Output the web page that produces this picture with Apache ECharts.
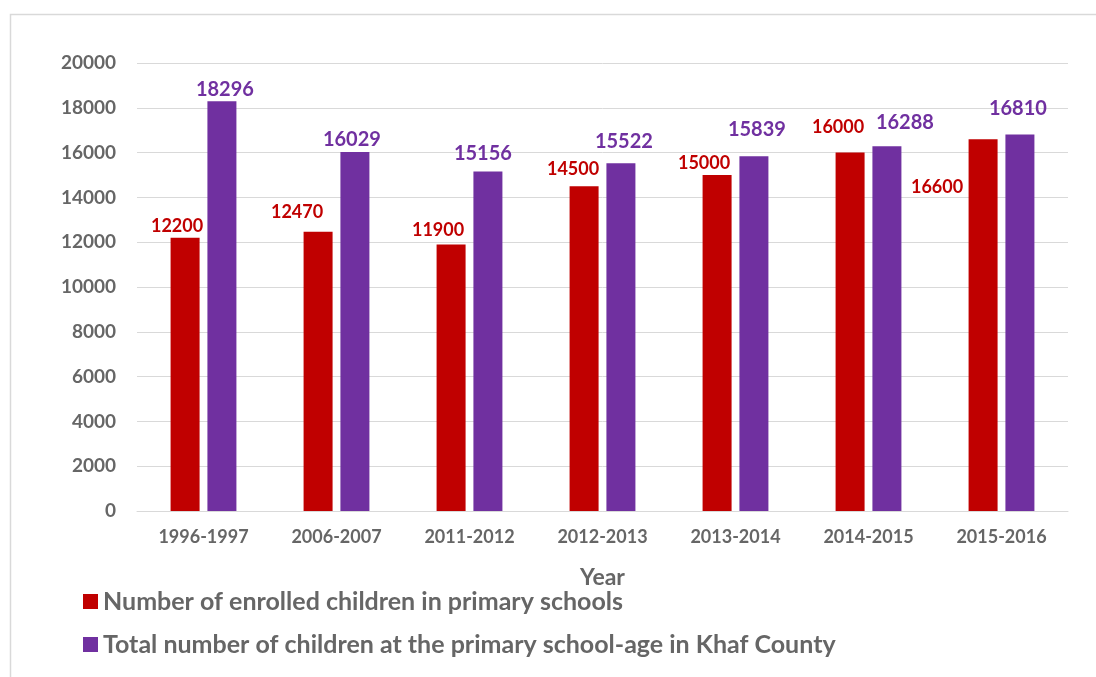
<!DOCTYPE html>
<html><head><meta charset="utf-8">
<script src="https://cdn.jsdelivr.net/npm/echarts@6/dist/echarts.min.js"></script>
<style>html,body{margin:0;padding:0;background:#fff}#c{width:1096px;height:677px}</style>
</head><body><div id="c"></div>
<script>
const categories = ['1996-1997','2006-2007','2011-2012','2012-2013','2013-2014','2014-2015','2015-2016'];
const enrolled = [12200, 12470, 11900, 14500, 15000, 16000, 16600];
const total = [18296, 16029, 15156, 15522, 15839, 16288, 16810];
const seriesNames = ['Number of enrolled children in primary schools','Total number of children at the primary school-age in Khaf County'];
const yTicks = [0, 2000, 4000, 6000, 8000, 10000, 12000, 14000, 16000, 18000, 20000];

// label nudges (style only), as in the original chart's manually moved data labels
const enrolledLabelOffsets = [[-8,0],[-21,-7],[-13,-2],[-11,-5],[-13,0],[-12,-13],[-46,60]];
const totalLabelOffsets = [[3,2],[-3,2],[-5,-4],[3,-8],[3,-13],[18,-10],[-2,-12]];

const FONT = 'Lato';
const chart = echarts.init(document.getElementById('c'), null, {renderer:'canvas'});
const enrolledData = enrolled.map((v,i) => ({value:v, label:{offset:enrolledLabelOffsets[i]}}));
const totalData = total.map((v,i) => ({value:v, label:{offset:totalLabelOffsets[i]}}));
chart.setOption({
  animation:false,
  textStyle:{fontFamily:FONT},
  graphic:[{type:'rect', shape:{x:10.5,y:14.5,width:1200,height:800}, style:{fill:'none',stroke:'#d9d9d9',lineWidth:1.5}, silent:true}],
  grid:{left:137,right:28,top:63,bottom:166,containLabel:false},
  legend:{
    orient:'vertical', left:78, top:584, itemGap:18, icon:'rect', itemWidth:15, itemHeight:15,
    textStyle:{color:'#666', fontSize:25, fontWeight:'bold', fontFamily:FONT},
    data:seriesNames
  },
  xAxis:{
    type:'category', data:categories,
    axisLine:{show:true, lineStyle:{color:'#d9d9d9', width:1}},
    axisTick:{show:false},
    axisLabel:{color:'#666', fontSize:18, fontWeight:'bold', margin:17, fontFamily:FONT},
    name:'Year', nameLocation:'middle', nameGap:55,
    nameTextStyle:{color:'#666', fontSize:23, fontWeight:'bold', fontFamily:FONT}
  },
  yAxis:{
    type:'value', min:yTicks[0], max:yTicks[yTicks.length-1], interval:yTicks[1]-yTicks[0],
    axisLine:{show:false}, axisTick:{show:false},
    splitLine:{lineStyle:{color:'#d9d9d9', width:1}},
    axisLabel:{color:'#666', fontSize:19, fontWeight:'bold', margin:21, fontFamily:FONT, formatter: v => String(v)}
  },
  series:[
    {name:seriesNames[0], type:'bar', data:enrolledData, barWidth:29, barGap:'27%', itemStyle:{color:'#C00000'},
     label:{show:true, position:'top', distance:3, color:'#C00000', fontSize:18, fontWeight:'bold', fontFamily:FONT}},
    {name:seriesNames[1], type:'bar', data:totalData, barWidth:29, itemStyle:{color:'#7030A0'},
     label:{show:true, position:'top', distance:4, color:'#7030A0', fontSize:20, fontWeight:'bold', fontFamily:FONT}}
  ]
});
</script></body></html>
